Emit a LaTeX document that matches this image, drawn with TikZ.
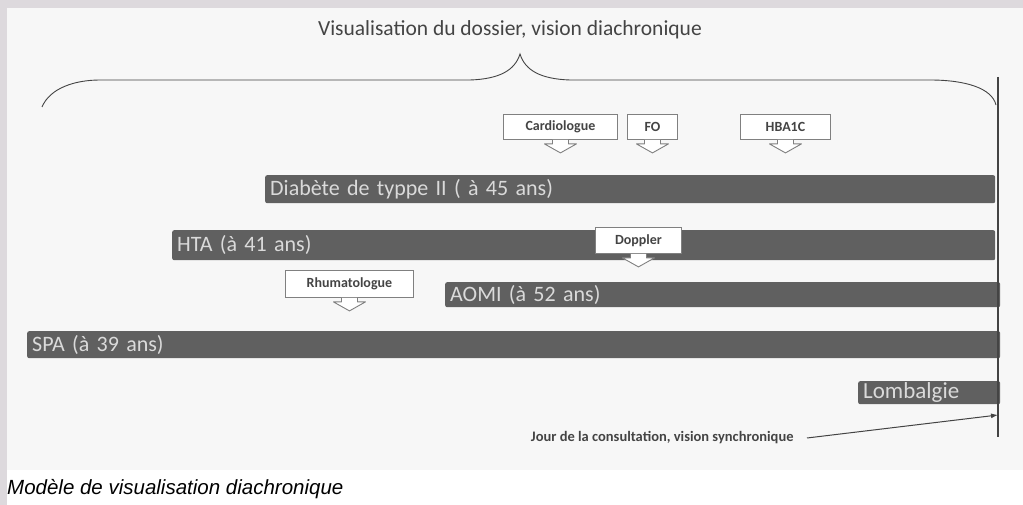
\documentclass[tikz,border=0pt]{standalone}
\usepackage{fontspec}
\setmainfont{Carlito}
\newfontfamily\capfont{Liberation Sans}
\usetikzlibrary{arrows.meta}
\definecolor{frame}{HTML}{DDD9DD}
\definecolor{panel}{HTML}{F7F7F7}
\definecolor{barfill}{HTML}{606060}
\definecolor{bartext}{HTML}{DADADA}
\definecolor{ink}{HTML}{444444}
\begin{document}
\begin{tikzpicture}[x=1pt, y=-1pt,
    bar/.style={fill=barfill, text=bartext, rounded corners=2pt, anchor=north west,
                inner xsep=5pt, inner ysep=2pt, align=left, font=\fontsize{22}{22}\selectfont},
    callbox/.style={draw=gray, fill=white, line width=0.9pt, anchor=north west,
                    font=\bfseries\fontsize{14}{14}\selectfont, text=ink},
    callarrow/.style={draw=gray, fill=white, line width=0.9pt, line join=round}]
    \useasboundingbox (0,0) rectangle (1023,505);
    % background
    \fill[frame] (0,0) rectangle (1023,505);
    \fill[panel] (7,8) rectangle (1023,470);
    \fill[white] (7,470) rectangle (1023,505);
    % brace over the whole file
    \node[text=ink, font=\fontsize{21.5}{21.5}\selectfont] (titre) at (510,30) {Visualisation du dossier, vision diachronique};
    \draw[ink, line width=0.9pt] (42,107) .. controls (50,88) and (75,80) .. (100,80) -- (470,80)
        .. controls (500,79) and (515,70) .. (520,54) .. controls (525,70) and (540,79) .. (570,80)
        -- (930,80) .. controls (965,80) and (992,88) .. (996,105);
    % time line of the day
    \coordinate (haut) at (998,77);
    \coordinate (bas) at (998,437);
    % bars
    \node[bar, minimum height=28, text width=720] (diab) at (265,175) {Diabète de typpe II ( à 45 ans)};
    \node[bar, minimum height=30, text width=813] (hta) at (172,230) {HTA (à 41 ans)};
    \node[bar, minimum height=25, text width=545] (aomi) at (445,282) {AOMI (à 52 ans)};
    \node[bar, minimum height=27, text width=963] (spa) at (27,331) {SPA (à 39 ans)};
    \node[bar, minimum height=23, text width=132, inner ysep=1pt, font=\fontsize{23}{23}\selectfont] (lomb) at (858,381) {Lombalgie};
    \draw[ink, line width=1.2pt] (haut) -- (bas);
    % callouts
    \node[callbox, minimum width=114, minimum height=25] (cardio) at (503,114) {Cardiologue};
    \node[callbox, minimum width=50, minimum height=25] (fo) at (627,114) {FO};
    \node[callbox, minimum width=90, minimum height=25] (hba) at (740,114) {HBA1C};
    \node[callbox, minimum width=86, minimum height=26] (doppler) at (595,227) {Doppler};
    \node[callbox, minimum width=128, minimum height=27] (rhumato) at (285,270) {Rhumatologue};
    \foreach \b in {cardio, fo, hba, doppler, rhumato}
        \path[callarrow] (\b.south) ++(-8,0) -- ++(0,4) -- ++(-8,0) -- ++(16,9) -- ++(16,-9) -- ++(-8,0) -- ++(0,-4);
    % day of the visit
    \node[anchor=east, text=ink, font=\bfseries\fontsize{14.5}{14.5}\selectfont] (jour) at (797,438) {Jour de la consultation, vision synchronique};
    \coordinate (auj) at (998,415);
    \draw[ink, line width=1pt, -{Latex[length=7pt, width=5pt]}] ([xshift=10pt]jour.east) -- (auj);
    % caption
    \node[anchor=west, inner xsep=1pt, font=\capfont\itshape\fontsize{20.5}{20.5}\selectfont] (legende) at (6,489) {Modèle de visualisation diachronique};
\end{tikzpicture}
\end{document}
